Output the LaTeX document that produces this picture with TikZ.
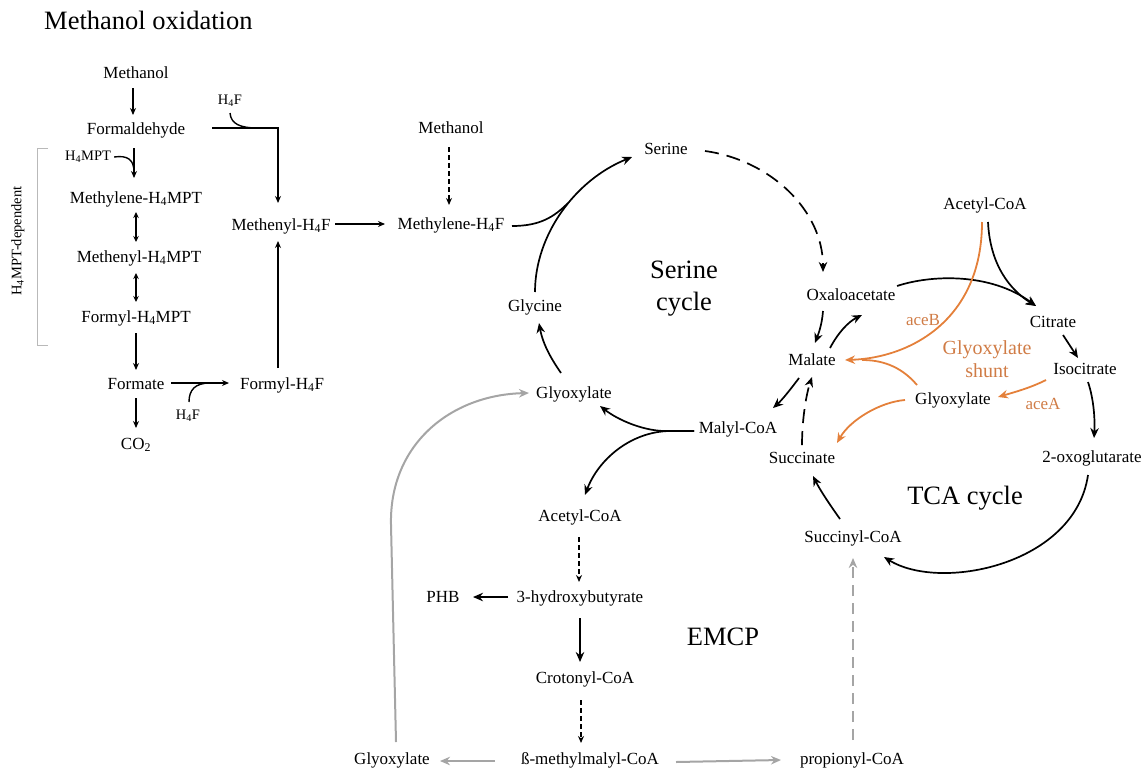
\documentclass[tikz,border=0pt]{standalone}
\usepackage{fontspec}
\setmainfont{Liberation Serif}
\usetikzlibrary{arrows.meta,calc}
\definecolor{orng}{RGB}{228,128,58}
\definecolor{orngt}{RGB}{208,124,70}
\definecolor{gry}{RGB}{165,165,165}
\definecolor{brk}{RGB}{185,185,185}
\newcommand\fA{\fontsize{17}{20}\selectfont}
\newcommand\fS{\fontsize{14.5}{17}\selectfont}
\newcommand\fB{\fontsize{26.5}{32}\selectfont}
\newcommand\fG{\fontsize{20}{23}\selectfont}
\newcommand\subsc[1]{\textsubscript{#1}}
\begin{document}
\begin{tikzpicture}[x=1pt,y=-1pt,
  lbl/.style={font=\fA, inner sep=2pt, text height=12pt, text depth=3.5pt},
  sml/.style={font=\fS, inner sep=1pt},
  bigl/.style={font=\fB, align=center, inner sep=0pt},
  ar/.style={line width=1.7pt, -{Stealth[length=10pt,width=8.5pt]}},
  arL/.style={line width=1.4pt, -{Stealth[length=7pt,width=6pt]}},
  darL/.style={line width=1.4pt, {Stealth[length=6pt,width=5.5pt]}-{Stealth[length=6pt,width=5.5pt]}},
  lnL/.style={line width=1.4pt},
  dshS/.style={dash pattern=on 5pt off 3pt},
  dshB/.style={dash pattern=on 14pt off 8pt},
  orar/.style={line width=1.8pt, draw=orng, -{Stealth[length=10pt,width=8.5pt]}},
  orln/.style={line width=1.8pt, draw=orng},
  grar/.style={line width=2pt, draw=gry, -{Stealth[length=10pt,width=8.5pt]}},
]
\useasboundingbox (0,0) rectangle (1147,771);

% ---------- nodes ----------
\node[font=\fB, anchor=west, inner sep=0pt] (title) at (44,20) {Methanol oxidation};

\node[lbl] (m1) at (136,74) {Methanol};
\node[lbl] (fald) at (136,130) {Formaldehyde};
\node[sml] (h4fa) at (230,101) {H\subsc{4}F};
\node[sml] (h4mpt) at (88,157) {H\subsc{4}MPT};
\node[lbl] (mlH4MPT) at (136,199) {Methylene-H\subsc{4}MPT};
\node[lbl] (mnH4MPT) at (139,258) {Methenyl-H\subsc{4}MPT};
\node[lbl] (fH4MPT) at (136,318) {Formyl-H\subsc{4}MPT};
\node[lbl] (formate) at (136,385) {Formate};
\node[lbl] (fH4F) at (282,385) {Formyl-H\subsc{4}F};
\node[sml] (h4fb) at (188,416) {H\subsc{4}F};
\node[lbl] (co2) at (136,445) {CO\subsc{2}};
\node[lbl] (mnH4F) at (281,226) {Methenyl-H\subsc{4}F};
\node[lbl] (mlH4F) at (451,225) {Methylene-H\subsc{4}F};
\node[lbl] (m2) at (451,129) {Methanol};
\node[sml, rotate=90] (dep) at (18,241) {H\subsc{4}MPT-dependent};

\node[lbl] (serine) at (666,150) {Serine};
\node[bigl] (sercyc) at (684,289) {Serine\\cycle};
\node[lbl] (glycine) at (535,307) {Glycine};
\node[lbl] (glyox) at (574,394) {Glyoxylate};
\node[lbl] (malyl) at (738,429) {Malyl-CoA};
\node[lbl] (acetylM) at (580,517) {Acetyl-CoA};
\node[lbl] (hb) at (580,598) {3-hydroxybutyrate};
\node[lbl] (phb) at (443,598) {PHB};
\node[bigl] (emcp) at (723,637) {EMCP};
\node[lbl] (croton) at (585,679) {Crotonyl-CoA};
\node[lbl] (bmm) at (590,760) {ß-methylmalyl-CoA};
\node[lbl] (glyoxB) at (392,760) {Glyoxylate};
\node[lbl] (prop) at (852,760) {propionyl-CoA};
\node[lbl] (succinyl) at (853,538) {Succinyl-CoA};
\node[lbl] (succinate) at (802,459) {Succinate};
\node[lbl] (malate) at (812,361) {Malate};
\node[lbl] (oxalo) at (851,296) {Oxaloacetate};
\node[lbl] (acetylR) at (985,205) {Acetyl-CoA};
\node[lbl] (citrate) at (1053,323) {Citrate};
\node[lbl] (isocit) at (1085,370) {Isocitrate};
\node[lbl] (oxoglut) at (1092,458) {2-oxoglutarate};
\node[bigl] (tca) at (965,498) {TCA cycle};
\node[lbl] (glyoxR) at (953,400) {Glyoxylate};
\node[font=\fG, text=orngt, align=center, inner sep=0pt] (shunt) at (987,359) {Glyoxylate\\shunt};
\node[lbl, text=orngt] (aceB) at (923,321) {aceB};
\node[lbl, text=orngt] (aceA) at (1043,405) {aceA};

% ---------- bracket ----------
\draw[brk, line width=0.8pt] (48,148) -- (37,148) -- (37,345) -- (48,345);

% ---------- methanol oxidation ----------
\draw[arL] ($(m1)+(-3,14)$) -- ($(fald)+(-3,-15)$);
\draw[arL] ($(fald)+(-2,18)$) -- ($(mlH4MPT)+(-2,-21)$);
\draw[lnL] ($(h4mpt.east)+(2,0)$) .. controls (128,155) and (134,160) .. ($(fald)+(-2,42)$);
\draw[darL] ($(mlH4MPT)+(0,13)$) -- ($(mnH4MPT)+(-3,-16)$);
\draw[darL] ($(mnH4MPT)+(-3,15)$) -- ($(fH4MPT)+(0,-16)$);
\draw[arL] ($(fH4MPT)+(0,15)$) -- ($(formate)+(0,-15)$);
\draw[arL] ($(formate)+(0,13)$) -- ($(co2)+(0,-17)$);
\draw[arL] ($(formate)+(35,-2)$) -- ($(fH4F)+(-53,-2)$);
\draw[lnL] ($(h4fb)+(1,-14)$) .. controls (189,390) and (195,383) .. ($(formate)+(74,-2)$);
\draw[arL] ($(fH4F)+(-4,-17)$) -- ($(mnH4F)+(-3,15)$);
\draw[arL] ($(fald)+(76,-2)$) -| ($(mnH4F)+(-3,-23)$);
\draw[lnL] ($(h4fa)+(0,12)$) .. controls (231,124) and (240,128) .. ($(fald)+(122,-2)$);
\draw[arL] ($(mnH4F)+(54,-2)$) -- ($(mlH4F)+(-66,-1)$);
\draw[arL, dshS] ($(m2)+(-2,18)$) -- ($(mlH4F)+(-2,-20)$);

% ---------- serine cycle ----------
\coordinate (mrg) at (568,203);
\draw[ar] ($(glycine)+(0,-15)$) .. controls (535,235) and (575,180) .. ($(serine)+(-34,7)$);
\draw[line width=1.7pt] ($(mlH4F)+(61,1)$) .. controls (540,226) and (554,217) .. (mrg);
\draw[ar, dshB] ($(serine)+(39,1)$) .. controls (770,160) and (823,210) .. ($(oxalo)+(-28,-24)$);
\draw[ar] ($(glyox)+(-13,-21)$) .. controls (552,360) and (543,345) .. ($(glycine)+(4,16)$);
\draw[ar] ($(malyl)+(-44,2)$) -- (669,431) .. controls (645,432) and (618,420) .. ($(glyox)+(26,12)$);
\draw[ar] ($(malyl)+(-44,2)$) -- (669,431) .. controls (630,432) and (598,460) .. ($(acetylM)+(5,-22)$);

% ---------- EMCP ----------
\draw[arL, dshS] ($(acetylM)+(-1,20)$) -- ($(hb)+(-1,-16)$);
\draw[ar] ($(hb)+(-72,-1)$) -- ($(phb)+(30,-1)$);
\draw[ar] ($(hb)+(0,20)$) -- ($(croton)+(-5,-17)$);
\draw[arL, dshS] ($(croton)+(-4,21)$) -- ($(bmm)+(-9,-17)$);
\draw[grar] ($(bmm)+(-95,1)$) -- ($(glyoxB)+(48,1)$);
\draw[grar] ($(bmm)+(86,2)$) -- ($(prop)+(-71,0)$);
\draw[grar, dash pattern=on 11pt off 7pt] ($(prop)+(1,-20)$) -- ($(succinyl)+(0,20)$);
\draw[grar] ($(glyoxB)+(4,-18)$) -- (391,525) .. controls (389,445) and (450,395) .. ($(glyox)+(-45,-1)$);

% ---------- TCA cycle ----------
\draw[ar] ($(oxalo)+(46,-10)$) .. controls (930,275) and (990,272) .. ($(citrate)+(-17,-17)$);
\draw[ar] ($(acetylR)+(3,17)$) .. controls (990,265) and (1010,290) .. ($(citrate)+(-17,-17)$);
\draw[ar] ($(citrate)+(10,12)$) -- ($(isocit)+(-7,-12)$);
\draw[ar] ($(isocit)+(3,12)$) .. controls (1094,400) and (1095,420) .. ($(oxoglut)+(2,-20)$);
\draw[ar] ($(oxoglut)+(-4,17)$) .. controls (1075,565) and (940,592) .. ($(succinyl)+(31,19)$);
\draw[ar] ($(succinyl)+(-13,-19)$) .. controls (830,505) and (820,490) .. ($(succinate)+(11,17)$);
\draw[ar, dshB] ($(succinate)+(0,-14)$) .. controls (802,420) and (806,395) .. ($(malate)+(0,16)$);
\draw[ar] ($(malate)+(-13,17)$) .. controls (790,390) and (782,400) .. ($(malyl)+(35,-21)$);
\draw[ar] ($(oxalo)+(-28,15)$) .. controls (822,325) and (818,335) .. ($(malate)+(3,-18)$);
\draw[ar] ($(malate)+(18,-13)$) .. controls (838,333) and (848,322) .. ($(oxalo)+(11,19)$);

% ---------- glyoxylate shunt ----------
\draw[orar] ($(acetylR)+(-3,17)$) .. controls (982,320) and (910,358) .. ($(malate)+(33,-1)$);
\draw[orln] ($(glyoxR)+(-36,-15)$) .. controls (900,365) and (880,360) .. ($(malate)+(50,-1)$);
\draw[orar] ($(isocit)+(-39,10)$) .. controls (1030,388) and (1015,392) .. ($(glyoxR)+(45,-3)$);
\draw[orar] ($(glyoxR)+(-48,0)$) .. controls (880,402) and (850,420) .. ($(succinate)+(35,-16)$);
\end{tikzpicture}
\end{document}
